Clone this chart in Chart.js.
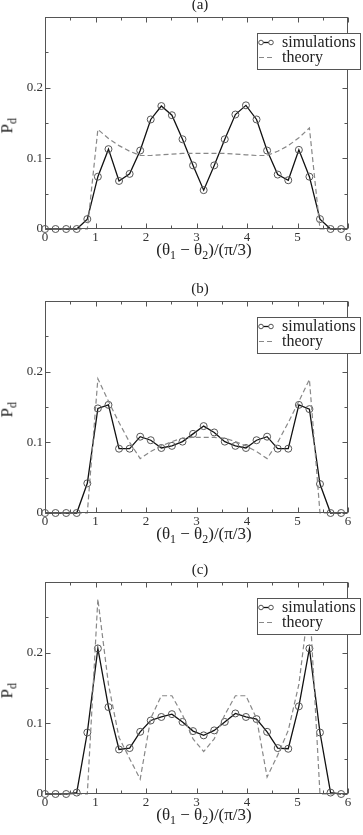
<!DOCTYPE html>
<html>
<head>
<meta charset="utf-8">
<script src="https://cdn.jsdelivr.net/npm/chart.js@4.4.1/dist/chart.umd.min.js"></script>
<style>
  body { margin: 0; background: #fff; width: 363px; height: 835px; position: relative; overflow: hidden;
         font-family: "Liberation Serif", "Times New Roman", serif; color: #222; }
  .panel { position: absolute; left: 0; width: 363px; height: 270px; }
  .panel canvas { position: absolute; left: 0; top: 0; }
  .tag { position: absolute; left: 180px; width: 40px; top: -5px; line-height: 18px; text-align: center; font-size: 15px; }
  .xlab { position: absolute; left: 104px; width: 200px; top: 239px; line-height: 22px; text-align: center; font-size: 17px; }
  .ylab { position: absolute; left: -10px; top: 113px; width: 40px; line-height: 20px; text-align: center;
          font-size: 17px; transform: rotate(-90deg); }
  sub { font-size: 70%; }
</style>
</head>
<body>
<div class="panel" style="top:0px">
  <canvas id="chartA" width="363" height="270"></canvas>
  <div class="tag">(a)</div>
  <div class="ylab">P<sub>d</sub></div>
  <div class="xlab">(θ<sub>1</sub> − θ<sub>2</sub>)/(π/3)</div>
</div>
<div class="panel" style="top:284px">
  <canvas id="chartB" width="363" height="270"></canvas>
  <div class="tag">(b)</div>
  <div class="ylab">P<sub>d</sub></div>
  <div class="xlab">(θ<sub>1</sub> − θ<sub>2</sub>)/(π/3)</div>
</div>
<div class="panel" style="top:565px">
  <canvas id="chartC" width="363" height="270"></canvas>
  <div class="tag">(c)</div>
  <div class="ylab">P<sub>d</sub></div>
  <div class="xlab">(θ<sub>1</sub> − θ<sub>2</sub>)/(π/3)</div>
</div>

<script>
// angle positions (in units of pi/3), shared by every series
const angles = [0, 0.209, 0.419, 0.628, 0.838, 1.047, 1.257, 1.466, 1.676, 1.885, 2.094, 2.304, 2.513, 2.723, 2.932,
  3.142, 3.351, 3.560, 3.770, 3.979, 4.189, 4.398, 4.608, 4.817, 5.027, 5.236, 5.445, 5.655, 5.864];

const simA = [0, 0, 0, 0, 0.014, 0.074, 0.113, 0.068, 0.078, 0.111, 0.155, 0.174, 0.161, 0.127, 0.090,
  0.055, 0.090, 0.127, 0.162, 0.175, 0.155, 0.111, 0.077, 0.069, 0.112, 0.074, 0.014, 0, 0];
const theoryA = [0, 0, 0, 0, 0, 0.141, 0.128, 0.118, 0.110, 0.104, 0.104, 0.105, 0.106, 0.107, 0.107,
  0.107, 0.107, 0.107, 0.106, 0.105, 0.104, 0.104, 0.110, 0.118, 0.129, 0.143, 0, 0, 0];

const simB = [0, 0, 0, 0, 0.042, 0.148, 0.153, 0.091, 0.091, 0.108, 0.103, 0.092, 0.095, 0.101, 0.112,
  0.123, 0.114, 0.101, 0.095, 0.092, 0.103, 0.108, 0.091, 0.091, 0.153, 0.147, 0.041, 0, 0];
const theoryB = [0, 0, 0, 0, 0, 0.190, 0.158, 0.128, 0.100, 0.077, 0.087, 0.095, 0.101, 0.106, 0.107,
  0.107, 0.107, 0.106, 0.101, 0.095, 0.087, 0.077, 0.100, 0.128, 0.158, 0.189, 0, 0, 0];

const simC = [0, 0, 0, 0.002, 0.087, 0.206, 0.123, 0.063, 0.065, 0.088, 0.104, 0.109, 0.113, 0.102, 0.089,
  0.083, 0.090, 0.102, 0.114, 0.109, 0.106, 0.088, 0.065, 0.064, 0.124, 0.206, 0.087, 0.002, 0];
const theoryC = [0, 0, 0, 0, 0, 0.276, 0.155, 0.080, 0.050, 0.021, 0.107, 0.139, 0.139, 0.112, 0.078,
  0.060, 0.078, 0.112, 0.139, 0.139, 0.107, 0.024, 0.055, 0.090, 0.155, 0.276, 0, 0, 0];

const xTicks = [0, 1, 2, 3, 4, 5, 6];
const yTicks = [0, 0.1, 0.2];
const legendLabels = ["simulations", "theory"];

function pairs(ys) {
  return angles.map((x, i) => ({ x: x, y: ys[i] }));
}

// box frame with inward ticks (grace style) + the legend box on top
const framePlugin = {
  id: "frame",
  afterDraw(chart) {
    const ctx = chart.ctx;
    const a = chart.chartArea;
    const xs = chart.scales.x;
    const ys = chart.scales.y;
    const L = Math.round(a.left) + 0.5, R = Math.round(a.right) - 0.5;
    const T = Math.round(a.top) + 0.5, B = Math.round(a.bottom) - 0.5;
    ctx.save();
    ctx.strokeStyle = "#555";
    ctx.lineWidth = 1;
    ctx.strokeRect(L, T, R - L, B - T);
    ctx.beginPath();
    for (let i = 0; i <= 12; i++) {
      const v = i * 0.5;
      const px = Math.round(xs.getPixelForValue(v)) + 0.5;
      const len = i % 2 === 0 ? 5 : 3;
      ctx.moveTo(px, B); ctx.lineTo(px, B - len);
      ctx.moveTo(px, T); ctx.lineTo(px, T + len);
    }
    for (let i = 0; i <= 6; i++) {
      const v = i * 0.05;
      const py = Math.round(ys.getPixelForValue(v)) + 0.5;
      const len = i % 2 === 0 ? 5 : 3;
      ctx.moveTo(L, py); ctx.lineTo(L + len, py);
      ctx.moveTo(R, py); ctx.lineTo(R - len, py);
    }
    ctx.stroke();

    // legend
    const top = a.top + 16;
    ctx.fillStyle = "#fff";
    ctx.fillRect(257.5, top + 0.5, 103, 36);
    ctx.strokeRect(257.5, top + 0.5, 103, 36);
    const r1 = a.top + 25.5, r2 = a.top + 40.5;
    ctx.strokeStyle = "#111";
    ctx.lineWidth = 1.3;
    ctx.beginPath(); ctx.moveTo(261, r1); ctx.lineTo(271, r1); ctx.stroke();
    ctx.strokeStyle = "#555";
    ctx.lineWidth = 1;
    [261, 271].forEach(function (cx) {
      ctx.beginPath(); ctx.arc(cx, r1, 2.3, 0, Math.PI * 2);
      ctx.fillStyle = "#fff"; ctx.fill(); ctx.stroke();
    });
    ctx.strokeStyle = "#888";
    ctx.lineWidth = 1.2;
    ctx.setLineDash([5, 3]);
    ctx.beginPath(); ctx.moveTo(259, r2); ctx.lineTo(273, r2); ctx.stroke();
    ctx.setLineDash([]);
    ctx.fillStyle = "#222";
    ctx.font = '16px "Liberation Serif", serif';
    ctx.textBaseline = "middle";
    ctx.fillText(legendLabels[0], 282, r1);
    ctx.fillText(legendLabels[1], 282, r2);
    ctx.restore();
  },
};

function makeChart(id, sim, theory) {
  const ctx = document.getElementById(id).getContext("2d");
  return new Chart(ctx, {
    type: "line",
    data: {
      datasets: [
        {
          label: legendLabels[1],
          data: pairs(theory),
          borderColor: "#888",
          borderWidth: 1.2,
          borderDash: [5, 3],
          pointRadius: 0,
          fill: false,
          clip: false,
        },
        {
          label: legendLabels[0],
          data: pairs(sim),
          borderColor: "#111",
          borderWidth: 1.3,
          pointRadius: 3.5,
          pointBorderColor: "#555",
          pointBorderWidth: 1,
          pointBackgroundColor: "rgba(0,0,0,0)",
          fill: false,
          clip: false,
        },
      ],
    },
    options: {
      responsive: false,
      animation: false,
      events: [],
      layout: { padding: { left: 0, right: 15, top: 17, bottom: 0 } },
      plugins: { legend: { display: false }, tooltip: { enabled: false } },
      scales: {
        x: {
          type: "linear",
          min: 0,
          max: 6,
          afterBuildTicks: function (scale) {
            scale.ticks = xTicks.map((v) => ({ value: v }));
          },
          afterFit: function (scale) { scale.height = 41; },
          ticks: {
            padding: 1,
            color: "#333",
            font: { family: '"Liberation Serif", serif', size: 13 },
            callback: (v) => String(v),
          },
          grid: { display: false, drawTicks: false },
          border: { display: false },
        },
        y: {
          min: 0,
          max: 0.3,
          afterBuildTicks: function (scale) {
            scale.ticks = yTicks.map((v) => ({ value: v }));
          },
          afterFit: function (scale) { scale.width = 45; },
          ticks: {
            padding: 2,
            color: "#333",
            font: { family: '"Liberation Serif", serif', size: 13 },
            callback: (v) => (v === 0 ? "0" : v.toFixed(1)),
          },
          grid: { display: false, drawTicks: false },
          border: { display: false },
        },
      },
    },
    plugins: [framePlugin],
  });
}

makeChart("chartA", simA, theoryA);
makeChart("chartB", simB, theoryB);
makeChart("chartC", simC, theoryC);
</script>
</body>
</html>
